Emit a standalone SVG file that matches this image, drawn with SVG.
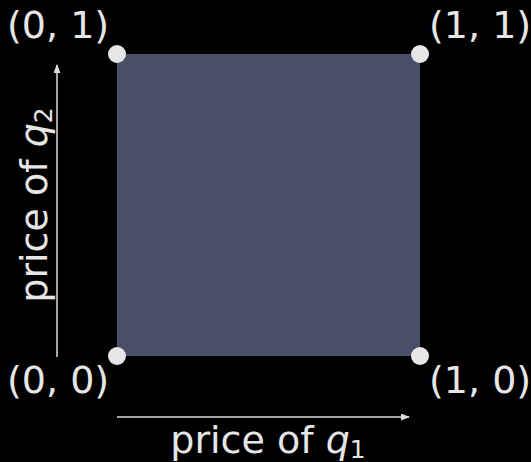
<svg xmlns="http://www.w3.org/2000/svg" width="531" height="462" viewBox="0 0 531 462">
<style>
.lbl{font-family:"DejaVu Sans",sans-serif;font-size:38px;fill:#e6e6e6}
.ax{stroke:#dcdcdc;stroke-width:1.5;fill:none}
.pt{fill:#e6e6e6}
</style>
<defs>
<marker id="ah" viewBox="0 0 10 10" refX="9" refY="5" markerWidth="9" markerHeight="7" markerUnits="userSpaceOnUse" orient="auto" preserveAspectRatio="none">
<path d="M0,0 L10,5 L0,10 z" fill="#dcdcdc"/>
</marker>
</defs>
<rect width="531" height="462" fill="#000"/>
<g id="square"><rect x="117" y="54" width="303" height="302" fill="#4a4e69"/></g>
<g id="connectors">
<line class="ax" x1="117" y1="417" x2="409" y2="417" marker-end="url(#ah)"/>
<line class="ax" x1="57" y1="357" x2="57" y2="65" marker-end="url(#ah)"/>
</g>
<g id="p00"><circle class="pt" cx="117" cy="356" r="9"/><text class="lbl" x="7" y="393">(0, 0)</text></g>
<g id="p10"><circle class="pt" cx="420" cy="356" r="9"/><text class="lbl" x="429" y="393">(1, 0)</text></g>
<g id="p01"><circle class="pt" cx="117" cy="54" r="9"/><text class="lbl" x="7" y="38">(0, 1)</text></g>
<g id="p11"><circle class="pt" cx="420" cy="54" r="9"/><text class="lbl" x="429" y="38">(1, 1)</text></g>
<g id="xlabel"><text class="lbl" x="268" y="453" text-anchor="middle" font-size="36">price of <tspan font-style="italic">q</tspan><tspan font-size="25" dy="5">1</tspan></text></g>
<g id="ylabel"><text class="lbl" transform="translate(47,205) rotate(-90)" text-anchor="middle" font-size="36">price of <tspan font-style="italic">q</tspan><tspan font-size="25" dy="5">2</tspan></text></g>
</svg>
